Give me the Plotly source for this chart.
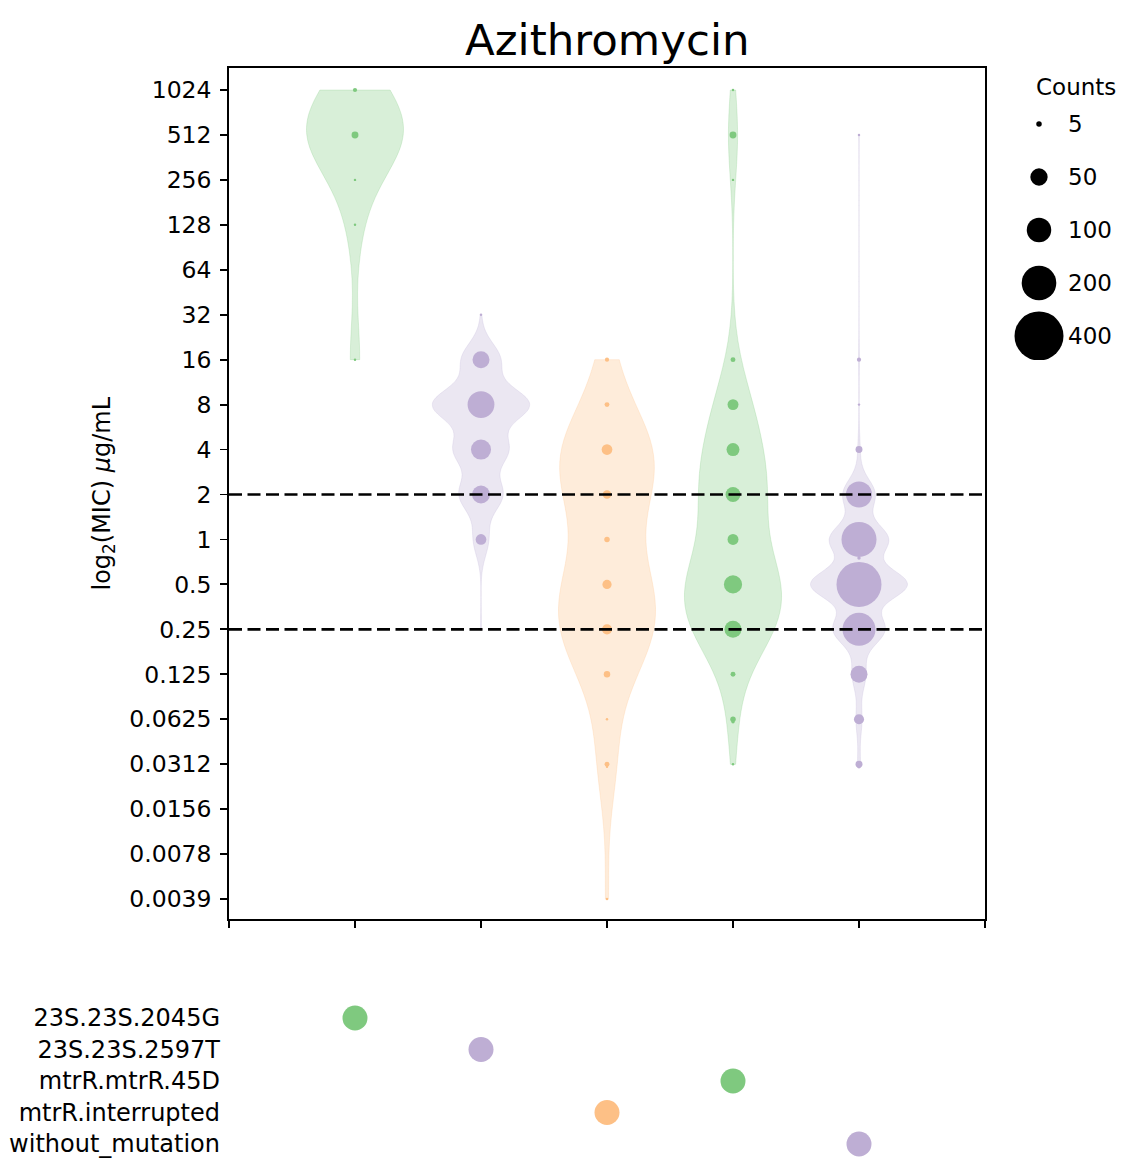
import numpy as np
import plotly.graph_objects as go

# ---------------- data ----------------
categories = ["23S.23S.2045G", "23S.23S.2597T", "mtrR.interrupted", "mtrR.mtrR.45D", "without_mutation"]
row_labels = ["23S.23S.2045G", "23S.23S.2597T", "mtrR.mtrR.45D", "mtrR.interrupted", "without_mutation"]
colors = ["#7fc97f", "#beaed4", "#fdc086", "#7fc97f", "#beaed4"]

mic_2045G = [1024, 512, 256, 128, 16]
cnt_2045G = [3, 8, 1, 1, 1]

mic_2597T = [32, 16, 8, 4, 2, 1, 0.25]
cnt_2597T = [1, 48, 120, 67, 54, 19, 1]

mic_interrupted = [16, 8, 4, 2, 1, 0.5, 0.25, 0.125, 0.0625, 0.0312, 0.03, 0.0039]
cnt_interrupted = [3, 4, 19, 12, 5, 14, 17, 7, 1, 4, 1, 1]

mic_45D = [1024, 512, 256, 16, 8, 4, 2, 1, 0.5, 0.25, 0.125, 0.0625, 0.06, 0.0312]
cnt_45D = [1, 8, 1, 4, 20, 28, 37, 20, 55, 48, 4, 5, 2, 1]

mic_without = [512, 16, 8, 4, 2, 1, 0.75, 0.5, 0.25, 0.125, 0.0625, 0.06, 0.0312, 0.03]
cnt_without = [1, 3, 1, 8, 113, 204, 2, 337, 181, 48, 17, 4, 8, 2]

tick_labels = ["0.0039", "0.0078", "0.0156", "0.0312", "0.0625", "0.125", "0.25", "0.5",
               "1", "2", "4", "8", "16", "32", "64", "128", "256", "512", "1024"]
tick_log2 = list(range(-8, 11))

legend_counts = [5, 50, 100, 200, 400]
breakpoints = [2, 0.25]

series_mic = [mic_2045G, mic_2597T, mic_interrupted, mic_45D, mic_without]
series_cnt = [cnt_2045G, cnt_2597T, cnt_interrupted, cnt_45D, cnt_without]

# ---------------- style ----------------
FONT = "DejaVu Sans"
W, H = 1121, 1158
PX_PER_SQRT = 2.45


def rgba(hexc, a):
    h = hexc.lstrip("#")
    r, g, b = int(h[0:2], 16), int(h[2:4], 16), int(h[4:6], 16)
    return f"rgba({r},{g},{b},{a})"


fig = go.Figure()

# violins
for i, (mic, cnt) in enumerate(zip(series_mic, series_cnt)):
    vals = np.repeat(np.log2(np.array(mic, dtype=float)), cnt)
    bw = float(np.std(vals, ddof=1) * len(vals) ** (-1 / 5))
    fig.add_trace(go.Violin(
        x=[i] * len(vals), y=vals, xaxis="x", yaxis="y",
        spanmode="hard", bandwidth=bw, width=0.77, scalemode="width",
        points=False, box_visible=False, meanline_visible=False,
        fillcolor=rgba(colors[i], 0.3), line=dict(width=0.8, color=rgba(colors[i], 0.3)),
        hoverinfo="skip", showlegend=False, side="both",
    ))

# bubbles
for i, (mic, cnt) in enumerate(zip(series_mic, series_cnt)):
    fig.add_trace(go.Scatter(
        x=[i] * len(mic), y=np.log2(np.array(mic, dtype=float)),
        mode="markers", xaxis="x", yaxis="y",
        marker=dict(size=PX_PER_SQRT * np.sqrt(np.array(cnt, dtype=float)),
                    color=colors[i], line=dict(width=0), opacity=1),
        showlegend=False, hoverinfo="skip",
    ))

# mutation matrix
mx = [categories.index(r) for r in row_labels]
fig.add_trace(go.Scatter(
    x=mx, y=list(range(len(row_labels))), mode="markers",
    xaxis="x2", yaxis="y2",
    marker=dict(size=25, color=[colors[k] for k in mx], line=dict(width=0), opacity=1),
    showlegend=False, hoverinfo="skip",
))

# size legend
fig.add_trace(go.Scatter(
    x=[0] * len(legend_counts), y=list(range(len(legend_counts))), mode="markers",
    xaxis="x3", yaxis="y3",
    marker=dict(size=PX_PER_SQRT * np.sqrt(np.array(legend_counts, dtype=float)),
                color="black", line=dict(width=0), opacity=1),
    showlegend=False, hoverinfo="skip",
))

annotations = []
for k, c in enumerate(legend_counts):
    annotations.append(dict(xref="x3", yref="y3", x=27, y=k, text=str(c), showarrow=False,
                            xanchor="left", yanchor="middle", font=dict(family=FONT, size=23, color="black")))
annotations.append(dict(xref="paper", yref="paper", x=1076 / W, y=1 - 87 / H, text="Counts",
                        showarrow=False, xanchor="center", yanchor="middle",
                        font=dict(family=FONT, size=23, color="black")))
annotations.append(dict(xref="x domain", yref="paper", x=0.5, y=1 - 40 / H, text="Azithromycin",
                        showarrow=False, xanchor="center", yanchor="middle",
                        font=dict(family=FONT, size=43.5, color="black")))
annotations.append(dict(xref="paper", yref="y domain", x=103 / W, y=0.5,
                        text="log<sub>2</sub>(MIC) <i>μ</i>g/mL", textangle=-90,
                        showarrow=False, xanchor="center", yanchor="middle",
                        font=dict(family=FONT, size=24, color="black")))

shapes = []
for b in breakpoints:
    v = float(np.log2(b))
    shapes.append(dict(type="line", xref="x domain", yref="y", x0=0, x1=1, y0=v, y1=v,
                       line=dict(color="black", width=2.7, dash="13px,5.5px"), layer="above"))

axis_common = dict(showgrid=False, zeroline=False)
fig.update_layout(
    width=W, height=H, margin=dict(l=0, r=0, t=0, b=0),
    paper_bgcolor="white", plot_bgcolor="white", showlegend=False,
    violinmode="overlay",
    font=dict(family=FONT, size=23, color="black"),
    xaxis=dict(domain=[229 / W, 985 / W], range=[-1, 5], tickvals=list(range(-1, 6)),
               showticklabels=False, ticks="outside", ticklen=7, tickwidth=1.8, tickcolor="black",
               showline=True, linecolor="black", linewidth=1.8, mirror=True, anchor="y", **axis_common),
    yaxis=dict(domain=[(H - 919) / H, (H - 68) / H], range=[-8.445, 10.4895],
               tickvals=tick_log2, ticktext=tick_labels, ticks="outside", ticklen=7, tickwidth=1.8,
               tickcolor="black", tickfont=dict(family=FONT, size=23.5, color="black"),
               ticklabelstandoff=4,
               showline=True, linecolor="black", linewidth=1.8, mirror=True, anchor="x", **axis_common),
    xaxis2=dict(domain=[229 / W, 985 / W], matches="x", anchor="y2", visible=False, **axis_common),
    yaxis2=dict(domain=[0, 168 / H], range=[4.444, -0.889], tickvals=list(range(len(row_labels))),
                ticktext=row_labels, ticks="", showline=False, anchor="x2", ticklabelstandoff=8,
                ticklabeloverflow="allow",
                tickfont=dict(family=FONT, size=24, color="black"), **axis_common),
    xaxis3=dict(domain=[1000 / W, 1.0], range=[-39, 82], visible=False, anchor="y3", **axis_common),
    yaxis3=dict(domain=[(H - 360) / H, (H - 70) / H], range=[4.453, -1.019], visible=False,
                anchor="x3", **axis_common),
    annotations=annotations, shapes=shapes,
)

fig.write_html("out.html", config={"displayModeBar": False, "staticPlot": True},
               post_script="document.body.style.margin='0px';document.body.style.overflow='hidden';")
